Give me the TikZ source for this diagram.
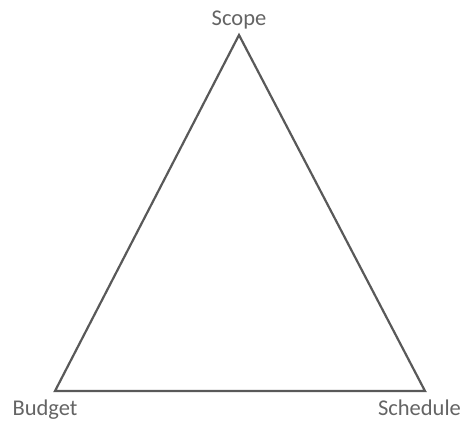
\documentclass[tikz,border=0pt]{standalone}
\usepackage{fontspec}
\setmainfont{Carlito}
\usetikzlibrary{positioning}
\definecolor{edgegray}{RGB}{89,89,89}
\definecolor{labelgray}{RGB}{100,100,100}
\tikzset{
  corner/.style={inner sep=0pt, outer sep=0pt},
  cornerlabel/.style={text=labelgray, font=\fontsize{22.5}{27}\selectfont, inner sep=0pt}
}

\begin{document}
\begin{tikzpicture}[x=1pt, y=-1pt]
        \useasboundingbox (0,0) rectangle (466,421);

        % Corners
        \coordinate (scope) at (239,35);
        \coordinate (budget) at (55,391);
        \coordinate (schedule) at (425,391);

        % Triangle
        \draw[edgegray, line width=2.2pt, line join=miter] (scope) -- (schedule) -- (budget) -- cycle;

        % Labels
        \node[cornerlabel, anchor=base] (scopelabel) at (239,25) {Scope};
        \node[cornerlabel, anchor=base] (budgetlabel) at (45,415) {Budget};
        \node[cornerlabel, anchor=base] (schedulelabel) at (419.5,415) {Schedule};
    \end{tikzpicture}
\end{document}
